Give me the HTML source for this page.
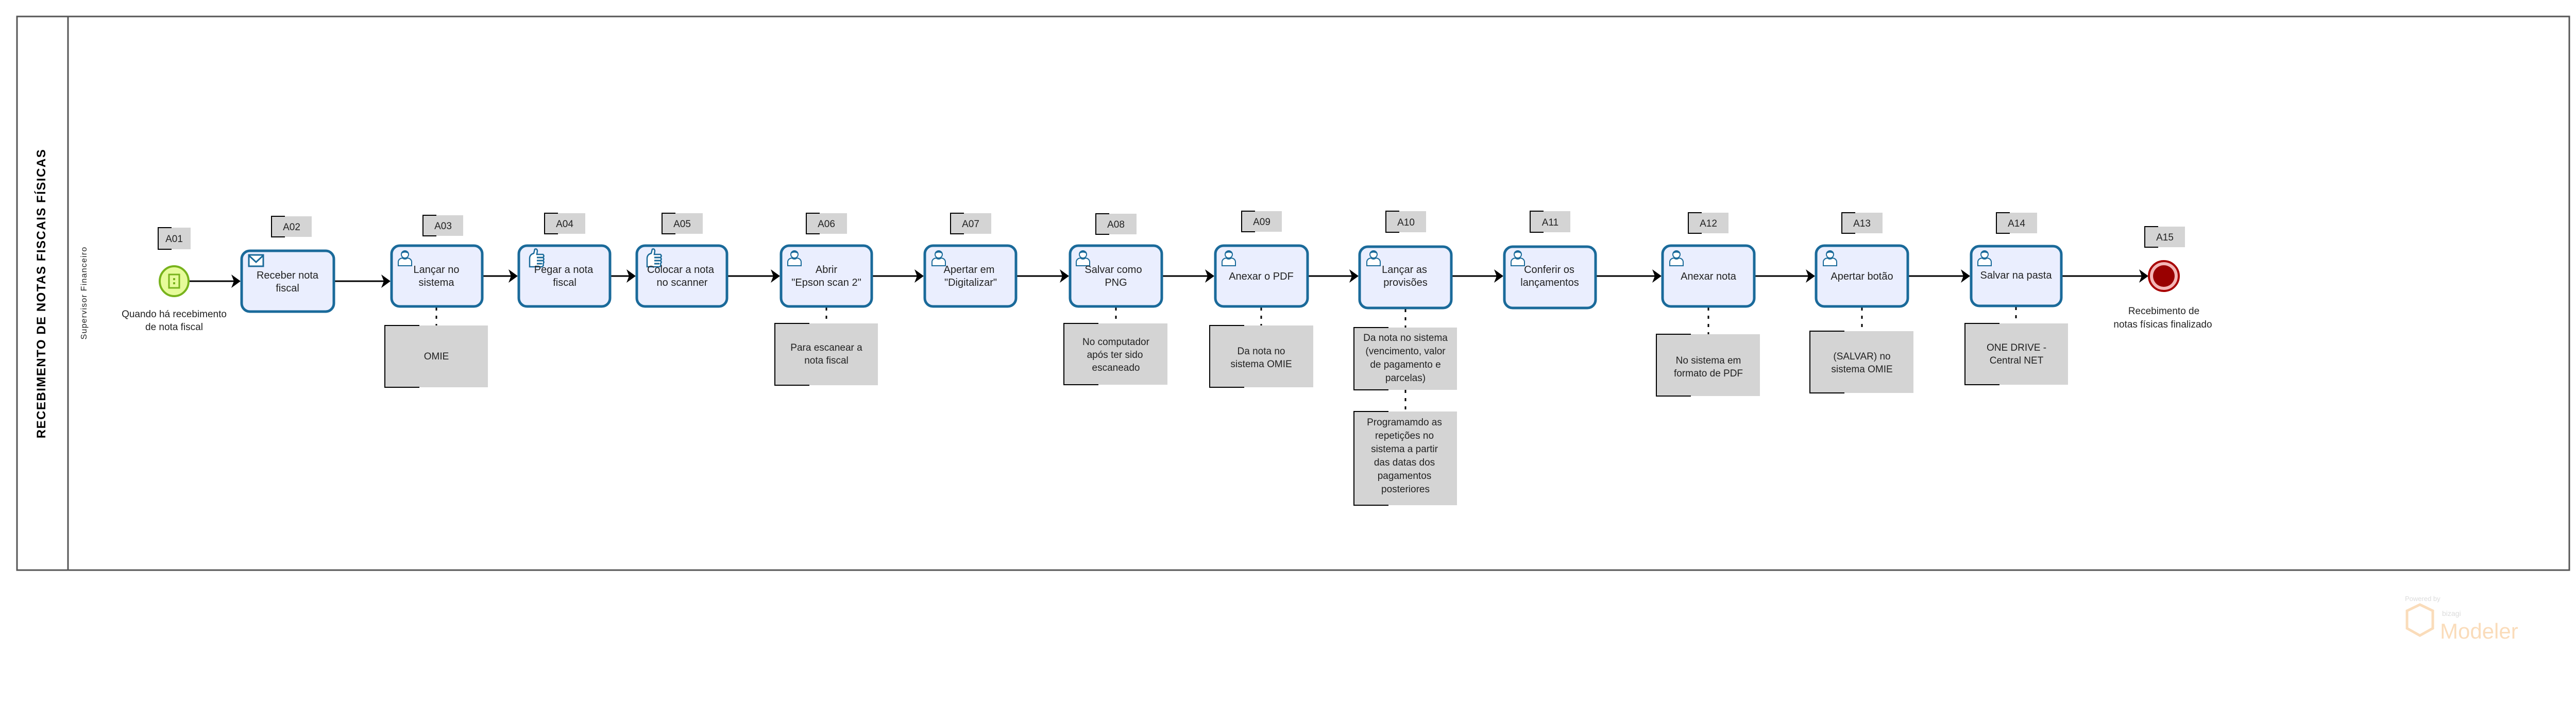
<!DOCTYPE html>
<html><head><meta charset="utf-8"><style>
html,body{margin:0;padding:0;background:#fff;}
svg{display:block}
text{font-family:"Liberation Sans",sans-serif;fill:#222}
</style></head><body>
<svg width="5020" height="1400" viewBox="0 0 5020 1400" xmlns="http://www.w3.org/2000/svg">
<defs>
<g id="user">
 <circle cx="0" cy="-8" r="7" fill="#fff" stroke="#1a6a9a" stroke-width="2"/>
 <path d="M-7,-12 Q0,-20 7,-12 L7,-9 Q0,-14 -7,-9 Z" fill="#1a6a9a"/>
 <path d="M-13,14 L-13,6 Q-12,0 -5,-1 Q0,3 5,-1 Q12,0 13,6 L13,14 Z" fill="#fff" stroke="#1a6a9a" stroke-width="2"/>
</g>
<g id="hand">
 <path d="M-12,14 L-12,-2 Q-12,-10 -4,-12 L-2,-20 Q2,-22 3,-17 L2,-10 L14,-10 Q17,-7 14,-4 L14,-4 Q17,-1 14,2 Q17,5 14,8 Q16,12 12,14 Z" fill="#fff" stroke="#1a6a9a" stroke-width="2.5"/>
 <path d="M2,-4 L14,-4 M2,2 L14,2 M2,8 L12,8" stroke="#1a6a9a" stroke-width="3"/>
</g>
</defs>

<!-- pool -->
<rect x="33" y="32" width="4954" height="1075" fill="none" stroke="#555" stroke-width="3"/>
<line x1="132" y1="32" x2="132" y2="1107" stroke="#555" stroke-width="3"/>
<text transform="translate(88,570) rotate(-90)" text-anchor="middle" font-size="24" font-weight="bold" letter-spacing="1.5" style="fill:#000">RECEBIMENTO DE NOTAS FISCAIS FÍSICAS</text>
<text transform="translate(168,569) rotate(-90)" text-anchor="middle" font-size="16" letter-spacing="1.2" style="fill:#222">Supervisor Financeiro</text>

<g id="flows" stroke="#000" stroke-width="3" fill="none">
 <line x1="367" y1="546" x2="455" y2="546"/>
 <line x1="649" y1="546" x2="746" y2="546"/>
 <line x1="937" y1="536" x2="993" y2="536"/>
 <line x1="1186" y1="536" x2="1222" y2="536"/>
 <line x1="1413" y1="536" x2="1502" y2="536"/>
 <line x1="1694" y1="536" x2="1781" y2="536"/>
 <line x1="1974" y1="536" x2="2063" y2="536"/>
 <line x1="2257" y1="536" x2="2345" y2="536"/>
 <line x1="2540" y1="536" x2="2625" y2="536"/>
 <line x1="2819" y1="536" x2="2906" y2="536"/>
 <line x1="3099" y1="536" x2="3213" y2="536"/>
 <line x1="3407" y1="536" x2="3511" y2="536"/>
 <line x1="3705" y1="536" x2="3812" y2="536"/>
 <line x1="4003" y1="536" x2="4158" y2="536"/>
</g>
<g fill="#000">
 <path d="M467,546 L449,533 L454,546 L449,559 Z"/>
 <path d="M758,546 L740,533 L745,546 L740,559 Z"/>
 <path d="M1005,536 L987,523 L992,536 L987,549 Z"/>
 <path d="M1234,536 L1216,523 L1221,536 L1216,549 Z"/>
 <path d="M1514,536 L1496,523 L1501,536 L1496,549 Z"/>
 <path d="M1793,536 L1775,523 L1780,536 L1775,549 Z"/>
 <path d="M2075,536 L2057,523 L2062,536 L2057,549 Z"/>
 <path d="M2357,536 L2339,523 L2344,536 L2339,549 Z"/>
 <path d="M2637,536 L2619,523 L2624,536 L2619,549 Z"/>
 <path d="M2918,536 L2900,523 L2905,536 L2900,549 Z"/>
 <path d="M3225,536 L3207,523 L3212,536 L3207,549 Z"/>
 <path d="M3523,536 L3505,523 L3510,536 L3505,549 Z"/>
 <path d="M3824,536 L3806,523 L3811,536 L3806,549 Z"/>
 <path d="M4170,536 L4152,523 L4157,536 L4152,549 Z"/>
</g>

<!-- dotted associations -->
<g stroke="#000" stroke-width="3" stroke-dasharray="6,10" fill="none">
 <line x1="847" y1="597" x2="847" y2="632"/>
 <line x1="1604" y1="597" x2="1604" y2="628"/>
 <line x1="2166" y1="597" x2="2166" y2="628"/>
 <line x1="2448" y1="597" x2="2448" y2="632"/>
 <line x1="2728" y1="600" x2="2728" y2="636"/>
 <line x1="2728" y1="757" x2="2728" y2="799"/>
 <line x1="3316" y1="597" x2="3316" y2="649"/>
 <line x1="3614" y1="597" x2="3614" y2="643"/>
 <line x1="3913" y1="596" x2="3913" y2="628"/>
</g>

<!-- start event -->
<ellipse cx="338" cy="546" rx="28" ry="29" fill="#e6fb9a" stroke="#78b31c" stroke-width="4"/>
<rect x="328" y="533" width="20" height="26" fill="none" stroke="#78b31c" stroke-width="3"/>
<rect x="336" y="540" width="4" height="4" fill="#78b31c"/><rect x="336" y="548" width="4" height="4" fill="#78b31c"/>
<text x="338" y="616" text-anchor="middle" font-size="19">Quando há recebimento</text>
<text x="338" y="641" text-anchor="middle" font-size="19">de nota fiscal</text>

<!-- end event -->
<circle cx="4200" cy="536" r="29" fill="#f4b6b6" stroke="#a80000" stroke-width="4"/>
<circle cx="4200" cy="536" r="21" fill="#990000"/>
<text x="4200" y="610" text-anchor="middle" font-size="19">Recebimento de</text>
<text x="4198" y="636" text-anchor="middle" font-size="19">notas físicas finalizado</text>

<!-- tasks -->
<g stroke="#1a6a9a" stroke-width="5" fill="#eaeefe">
 <rect x="469" y="487" width="179" height="118" rx="16"/>
 <rect x="760" y="477" width="176" height="118" rx="16"/>
 <rect x="1007" y="477" width="177" height="118" rx="16"/>
 <rect x="1236" y="477" width="175" height="118" rx="16"/>
 <rect x="1516" y="477" width="176" height="118" rx="16"/>
 <rect x="1795" y="477" width="177" height="118" rx="16"/>
 <rect x="2077" y="477" width="178" height="118" rx="16"/>
 <rect x="2359" y="477" width="179" height="118" rx="16"/>
 <rect x="2639" y="479" width="178" height="119" rx="16"/>
 <rect x="2920" y="479" width="177" height="119" rx="16"/>
 <rect x="3227" y="477" width="178" height="118" rx="16"/>
 <rect x="3525" y="477" width="178" height="118" rx="16"/>
 <rect x="3826" y="478" width="175" height="116" rx="16"/>
</g>
<rect x="483" y="495" width="28" height="22" fill="#fff" stroke="#1a6a9a" stroke-width="3"/>
<path d="M483,496 L497,509 L511,496" fill="none" stroke="#1a6a9a" stroke-width="3"/>
<use href="#user" x="786" y="502"/>
<use href="#hand" x="1040" y="504"/>
<use href="#hand" x="1268" y="504"/>
<use href="#user" x="1542" y="502"/>
<use href="#user" x="1822" y="502"/>
<use href="#user" x="2102" y="502"/>
<use href="#user" x="2385" y="502"/>
<use href="#user" x="2666" y="502"/>
<use href="#user" x="2946" y="502"/>
<use href="#user" x="3254" y="502"/>
<use href="#user" x="3552" y="502"/>
<use href="#user" x="3852" y="502"/>

<g font-size="20" text-anchor="middle">
 <text x="558" y="541">Receber nota</text><text x="558" y="566">fiscal</text>
 <text x="847" y="530">Lançar no</text><text x="847" y="555">sistema</text>
 <text x="1094" y="530">Pegar a nota</text><text x="1096" y="555">fiscal</text>
 <text x="1321" y="530">Colocar a nota</text><text x="1324" y="555">no scanner</text>
 <text x="1604" y="530">Abrir</text><text x="1604" y="555">"Epson scan 2"</text>
 <text x="1881" y="530">Apertar em</text><text x="1884" y="555">"Digitalizar"</text>
 <text x="2161" y="530">Salvar como</text><text x="2166" y="555">PNG</text>
 <text x="2448" y="543">Anexar o PDF</text>
 <text x="2726" y="530">Lançar as</text><text x="2728" y="555">provisões</text>
 <text x="3007" y="530">Conferir os</text><text x="3008" y="555">lançamentos</text>
 <text x="3316" y="543">Anexar nota</text>
 <text x="3614" y="543">Apertar botão</text>
 <text x="3913" y="541">Salvar na pasta</text>
</g>

<g id="labels">
 <g fill="#d4d4d4">
  <rect x="307" y="442" width="63" height="42"/>
  <rect x="527" y="420" width="78" height="40"/>
  <rect x="821" y="418" width="78" height="40"/>
  <rect x="1057" y="414" width="79" height="40"/>
  <rect x="1285" y="414" width="79" height="40"/>
  <rect x="1565" y="414" width="79" height="40"/>
  <rect x="1845" y="414" width="79" height="40"/>
  <rect x="2127" y="415" width="79" height="40"/>
  <rect x="2410" y="410" width="78" height="40"/>
  <rect x="2690" y="410" width="78" height="41"/>
  <rect x="2970" y="410" width="78" height="41"/>
  <rect x="3277" y="413" width="78" height="40"/>
  <rect x="3575" y="413" width="79" height="40"/>
  <rect x="3875" y="413" width="79" height="40"/>
  <rect x="4163" y="440" width="78" height="40"/>
 </g>
 <g stroke="#000" stroke-width="2" fill="none">
  <path d="M333,442 H307 V484 H333"/>
  <path d="M553,420 H527 V460 H553"/>
  <path d="M847,418 H821 V458 H847"/>
  <path d="M1083,414 H1057 V454 H1083"/>
  <path d="M1311,414 H1285 V454 H1311"/>
  <path d="M1591,414 H1565 V454 H1591"/>
  <path d="M1871,414 H1845 V454 H1871"/>
  <path d="M2153,415 H2127 V455 H2153"/>
  <path d="M2436,410 H2410 V450 H2436"/>
  <path d="M2716,410 H2690 V451 H2716"/>
  <path d="M2996,410 H2970 V451 H2996"/>
  <path d="M3303,413 H3277 V453 H3303"/>
  <path d="M3601,413 H3575 V453 H3601"/>
  <path d="M3901,413 H3875 V453 H3901"/>
  <path d="M4189,440 H4163 V480 H4189"/>
 </g>
 <g font-size="19" text-anchor="middle">
  <text x="338" y="470">A01</text>
  <text x="566" y="447">A02</text>
  <text x="860" y="445">A03</text>
  <text x="1096" y="441">A04</text>
  <text x="1324" y="441">A05</text>
  <text x="1604" y="441">A06</text>
  <text x="1884" y="441">A07</text>
  <text x="2166" y="442">A08</text>
  <text x="2449" y="437">A09</text>
  <text x="2729" y="438">A10</text>
  <text x="3009" y="438">A11</text>
  <text x="3316" y="440">A12</text>
  <text x="3614" y="440">A13</text>
  <text x="3914" y="440">A14</text>
  <text x="4202" y="467">A15</text>
 </g>
</g>

<g fill="#d4d4d4">
 <rect x="747" y="632" width="200" height="120"/>
 <rect x="1504" y="628" width="200" height="120"/>
 <rect x="2065" y="628" width="201" height="119"/>
 <rect x="2348" y="632" width="201" height="120"/>
 <rect x="2628" y="636" width="200" height="121"/>
 <rect x="2628" y="799" width="200" height="182"/>
 <rect x="3215" y="649" width="201" height="120"/>
 <rect x="3513" y="643" width="201" height="120"/>
 <rect x="3814" y="628" width="200" height="119"/>
</g>
<g stroke="#000" stroke-width="2" fill="none">
 <path d="M814,632 H747 V752 H814"/>
 <path d="M1571,628 H1504 V748 H1571"/>
 <path d="M2132,628 H2065 V747 H2132"/>
 <path d="M2415,632 H2348 V752 H2415"/>
 <path d="M2695,636 H2628 V757 H2695"/>
 <path d="M2695,799 H2628 V981 H2695"/>
 <path d="M3282,649 H3215 V769 H3282"/>
 <path d="M3580,643 H3513 V763 H3580"/>
 <path d="M3881,628 H3814 V747 H3881"/>
</g>
<g font-size="19" text-anchor="middle">
 <text x="847" y="698">OMIE</text>
 <text x="1604" y="681">Para escanear a</text><text x="1604" y="706">nota fiscal</text>
 <text x="2166" y="670">No computador</text><text x="2164" y="695">após ter sido</text><text x="2166" y="720">escaneado</text>
 <text x="2448" y="688">Da nota no</text><text x="2448" y="713">sistema OMIE</text>
 <text x="2728" y="662">Da nota no sistema</text><text x="2728" y="688">(vencimento, valor</text><text x="2728" y="714">de pagamento e</text><text x="2728" y="740">parcelas)</text>
 <text x="2726" y="826">Programamdo as</text><text x="2726" y="852">repetições no</text><text x="2726" y="878">sistema a partir</text><text x="2726" y="904">das datas dos</text><text x="2726" y="930">pagamentos</text><text x="2728" y="956">posteriores</text>
 <text x="3316" y="706">No sistema em</text><text x="3316" y="731">formato de PDF</text>
 <text x="3614" y="698">(SALVAR) no</text><text x="3614" y="723">sistema OMIE</text>
 <text x="3914" y="681">ONE DRIVE -</text><text x="3914" y="706">Central NET</text>
</g>

<g opacity="0.35">
 <text x="4668" y="1167" font-size="13" style="fill:#999">Powered by</text>
 <text x="4740" y="1196" font-size="14" style="fill:#999">bizagi</text>
 <text x="4736" y="1240" font-size="42" style="fill:#f39c3c">Modeler</text>
 <path d="M4672,1186 L4697,1174 L4722,1186 L4722,1220 L4697,1234 L4672,1220 Z" fill="none" stroke="#f39c3c" stroke-width="5"/>
</g>
</svg>
</body></html>
